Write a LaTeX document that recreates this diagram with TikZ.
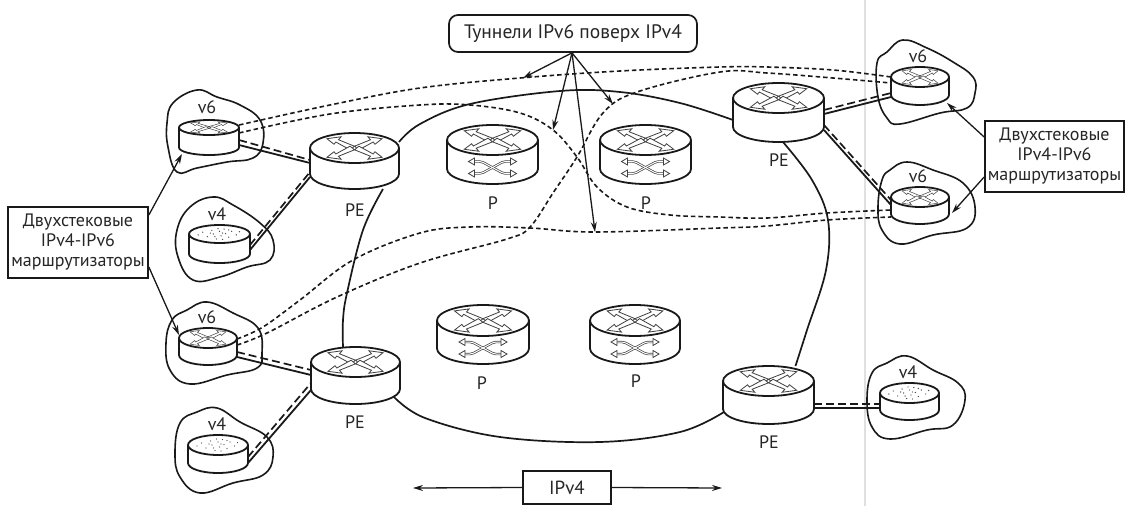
\documentclass[tikz,border=0pt]{standalone}
\usepackage{fontspec}
\setmainfont{PT Sans}
\usetikzlibrary{arrows.meta}
\tikzset{
  solidlink/.style={line width=1.8pt,black!90},
  dashlink/.style={line width=1.7pt,black!90,dash pattern=on 8pt off 4pt},
  tunnel/.style={line width=1.6pt,black!90,dash pattern=on 4.5pt off 3pt},
  cloudline/.style={line width=1.6pt,black!90},
  corelink/.style={line width=1.7pt,black!90},
  pointer/.style={line width=1.3pt,black!90,-{Stealth[length=10pt,width=6pt]}},
  lab/.style={inner sep=0pt,text=black!85,font=\fontsize{18}{20}\selectfont},
  callout/.style={draw,line width=1.7pt,black!90,text=black!85,inner sep=0pt,align=center,font=\fontsize{18}{20}\selectfont},
  routerbox/.style={inner sep=0pt,outer sep=0pt},
  glyph/.style={line width=.8pt,draw=black!75,fill=white},
}
\newcommand{\topglyph}[1]{%
  \foreach \sx/\sy in {1/1,-1/1,1/-1,-1/-1}{
    \draw[glyph,#1,xscale=\sx,yscale=\sy] (0,.12) -- (.36,.55) -- (.30,.75) -- (.62,.62) -- (.46,.25) -- (.42,.40) -- (.10,-.12) -- cycle;
  }}
\newcommand{\rtr}[7]{% cx, cy, rx, ry, h, kind, unused
  \draw[line width=1.8pt,black!90,fill=white] (#1-#3,#2) -- (#1-#3,#2+#5)
     arc[start angle=180,end angle=360,x radius=#3pt,y radius=#4pt] -- (#1+#3,#2)
     arc[start angle=0,end angle=360,x radius=#3pt,y radius=#4pt];
  \ifnum#6=2
    \begin{scope}[shift={(#1,#2)},x=#3pt,y=#4pt]
      \foreach \dx/\dy in {-.55/.2,-.4/-.3,-.25/.4,-.2/0,-.1/-.55,0/.3,.05/-.2,.15/.55,.2/.05,.3/-.35,.4/.3,.55/-.1,-.7/-.1,.65/.25,-.05/.6,.1/-.6,-.3/.1,.1/.1,.3/.45,-.15/-.3}
        \fill[black!70] (\dx,\dy) circle[radius=.7pt];
    \end{scope}
  \else
    \begin{scope}[shift={(#1,#2)},x=#3pt,y=#4pt]
      \topglyph{#7}
    \end{scope}
  \fi
  \ifnum#6=1
    \begin{scope}[shift={(#1,#2+27.5)}]
      \draw[line width=2.4pt,black!75,rounded corners=2pt] (-20,-6) -- (-11,-6) -- (11,6) -- (20,6);
      \draw[line width=2.4pt,black!75,rounded corners=2pt] (-20,6) -- (-11,6) -- (11,-6) -- (20,-6);
      \draw[line width=1pt,white,rounded corners=2pt] (-20,-6) -- (-11,-6) -- (11,6) -- (20,6);
      \draw[line width=1pt,white,rounded corners=2pt] (-20,6) -- (-11,6) -- (11,-6) -- (20,-6);
      \foreach \sx/\sy in {1/1,-1/1,1/-1,-1/-1}{
        \draw[glyph,xscale=\sx,yscale=\sy] (18,2.5) -- (24,6) -- (18,9.5) -- cycle;
      }
    \end{scope}
  \fi
}
\begin{document}
\begin{tikzpicture}[x=1pt,y=-1pt]
\useasboundingbox (0,0) rectangle (1130,506);
\fill[white] (0,0) rectangle (1130,506);
\draw[black!12,line width=1.6pt] (865,0) -- (865,506);

% named router footprints
\foreach \n/\cx/\cy/\rx/\ry/\h in {vTL/209/127.5/30/7.5/20,vLT/219.5/234/30.5/9/20,vBL/208/338/29/10/17,vLB/218/445/30/10/18,PEa/354.5/148/44.5/15/26,PEb/355.5/362/44.5/15/27,PEc/778.5/98/45.5/15/29,PEd/768.5/381/45.5/15/28,vTR/920/77/29/10/18,vBR/920/197/29/10/17,vRF/909.5/393/29.5/10/17,Pa/492.5/140/45.5/15/29,Pb/645.5/140/45.5/15/29,Pc/483/320.5/46/15.5/28,Pd/635/320.5/45/15.5/28}
  \node[routerbox,minimum width={2*\rx*1pt},minimum height={(\h+2*\ry)*1pt}] (\n) at (\cx,{\cy+\h/2}) {};

% clouds
\draw[cloudline] plot[smooth cycle,tension=.7] coordinates {(197,90)(217,97)(240,105)(260,120)(263,143)(253,158)(227,162)(197,168)(177,172)(168,147)(167,123)(173,103)};
\draw[cloudline] plot[smooth cycle,tension=.7] coordinates {(213,197)(233,205)(260,223)(273,240)(270,260)(247,267)(220,277)(193,280)(178,257)(177,230)(190,207)};
\draw[cloudline] plot[smooth cycle,tension=.7] coordinates {(207,302)(233,313)(258,328)(262,353)(257,368)(227,375)(190,384)(170,370)(166,343)(172,320)(187,310)};
\draw[cloudline] plot[smooth cycle,tension=.7] coordinates {(217,408)(240,422)(267,437)(273,457)(263,475)(233,483)(200,493)(180,477)(175,453)(180,423)(197,412)};
\draw[cloudline] plot[smooth cycle,tension=.7] coordinates {(903,40)(927,48)(953,62)(973,77)(975,93)(967,108)(940,113)(900,124)(887,118)(878,97)(877,63)(887,52)};
\draw[cloudline] plot[smooth cycle,tension=.7] coordinates {(907,162)(933,170)(963,183)(975,207)(967,228)(933,235)(900,244)(882,230)(878,207)(882,180)(890,170)};
\draw[cloudline] plot[smooth cycle,tension=.7] coordinates {(907,356)(933,370)(958,383)(965,400)(953,425)(927,430)(890,439)(872,427)(867,400)(872,373)(887,363)};

% core ring
\coordinate (c1) at ([yshift=19pt]PEa.east);
\coordinate (c2) at ([yshift=-7.5pt]PEc.west);
\draw[corelink] plot[smooth,tension=.6] coordinates {(c1)(420,124)(470,104)(560,91)(620,92)(680,103)(c2)};
\coordinate (c3) at ([xshift=28.5pt]PEa.south);
\coordinate (c4) at ([xshift=-12.5pt]PEb.north);
\draw[corelink] plot[smooth,tension=.6] coordinates {(c3)(363,230)(347,293)(343,320)(c4)};
\coordinate (c5) at ([xshift=-6pt,yshift=-21.5pt]PEb.east);
\coordinate (c6) at ([xshift=1pt,yshift=-17pt]PEd.west);
\draw[corelink] plot[smooth,tension=.6] coordinates {(c5)(425,418)(500,437)(600,442)(680,432)(c6)};
\coordinate (c7) at ([xshift=4.5pt]PEc.south);
\coordinate (c8) at ([xshift=27pt]PEd.north);
\draw[corelink] plot[smooth,tension=.6] coordinates {(c7)(812,180)(828,220)(826,270)(807,330)(c8)};

% tunnels
\coordinate (t1a) at ([yshift=12.5pt]vTL.east);
\coordinate (t1b) at ([yshift=9pt]vTR.west);
\draw[tunnel] plot[smooth,tension=.6] coordinates {(t1a)(330,105)(420,88)(520,78)(620,71)(720,67)(767,67)(833,70)(t1b)};
\coordinate (t2a) at ([yshift=4.5pt]vTL.east);
\coordinate (t2b) at ([yshift=-4.5pt]vBR.west);
\draw[tunnel] plot[smooth,tension=.6] coordinates {(t2a)(330,114)(420,105)(470,105)(520,113)(553,130)(577,157)(597,187)(627,207)(670,215)(720,217)(767,218)(827,213)(t2b)};
\coordinate (t3a) at ([yshift=1.5pt]vBL.east);
\coordinate (t3b) at ([yshift=3pt]vTR.west);
\draw[tunnel] plot[smooth,tension=.6] coordinates {(t3a)(267,333)(337,297)(420,263)(507,239)(530,227)(553,193)(577,157)(603,113)(637,92)(720,72)(767,73)(833,78)(t3b)};
\coordinate (t4a) at ([yshift=7.5pt]vBL.east);
\coordinate (t4b) at ([yshift=-11.5pt]vBR.west);
\draw[tunnel] plot[smooth,tension=.6] coordinates {(t4a)(263,327)(300,300)(353,260)(420,233)(470,227)(530,228)(595,232)(720,228)(767,226)(827,220)(t4b)};

% access links
\draw[solidlink] ([yshift=-7.5pt]vTL.east) -- ([yshift=-2pt]PEa.west);
\draw[dashlink] ([yshift=-2.5pt]vTL.east) -- ([yshift=1pt]PEa.west);
\draw[solidlink] ([yshift=-6pt]vLT.east) -- ([yshift=-16pt]PEa.west);
\draw[dashlink] ([yshift=-1pt]vLT.east) -- ([yshift=-11pt]PEa.west);
\draw[solidlink] ([yshift=-10.5pt]vBL.east) -- ([yshift=.5pt]PEb.west);
\draw[dashlink] ([yshift=-5.5pt]vBL.east) -- ([yshift=5.5pt]PEb.west);
\draw[solidlink] ([yshift=-9pt]vLB.east) -- ([yshift=-14.5pt]PEb.west);
\draw[dashlink] ([yshift=-3pt]vLB.east) -- ([yshift=-7.5pt]PEb.west);
\draw[solidlink] ([yshift=-1.5pt]PEc.east) -- ([yshift=-11pt]vTR.west);
\draw[dashlink] ([yshift=2.5pt]PEc.east) -- ([yshift=-7pt]vTR.west);
\draw[solidlink] ([yshift=-17.5pt]PEc.east) -- ([yshift=.5pt]vBR.west);
\draw[dashlink] ([yshift=-12.5pt]PEc.east) -- ([yshift=5.5pt]vBR.west);
\draw[solidlink] ([yshift=-13pt]PEd.east) -- ([yshift=-6.5pt]vRF.west);
\draw[dashlink] ([yshift=-9pt]PEd.east) -- ([yshift=-2.5pt]vRF.west);

% routers
\rtr{209}{127.5}{30}{7.5}{20}{0}{line width=.5pt}
\rtr{219.5}{234}{30.5}{9}{20}{2}{}
\rtr{208}{338}{29}{10}{17}{0}{line width=.5pt}
\rtr{218}{445}{30}{10}{18}{2}{}
\rtr{354.5}{148}{44.5}{15}{26}{0}{}
\rtr{355.5}{362}{44.5}{15}{27}{0}{}
\rtr{778.5}{98}{45.5}{15}{29}{0}{}
\rtr{768.5}{381}{45.5}{15}{28}{0}{}
\rtr{920}{77}{29}{10}{18}{0}{line width=.5pt}
\rtr{920}{197}{29}{10}{17}{0}{line width=.5pt}
\rtr{909.5}{393}{29.5}{10}{17}{2}{}
\rtr{492.5}{140}{45.5}{15}{29}{1}{}
\rtr{645.5}{140}{45.5}{15}{29}{1}{}
\rtr{483}{320.5}{46}{15.5}{28}{1}{}
\rtr{635}{320.5}{45}{15.5}{28}{1}{}

% text labels
\node[lab] (l1) at (207,107) {v6};
\node[lab] (l2) at (217,214) {v4};
\node[lab] (l3) at (207,317) {v6};
\node[lab] (l4) at (217,424) {v4};
\node[lab] (l5) at (918,56) {v6};
\node[lab] (l6) at (918,176) {v6};
\node[lab] (l7) at (908,372) {v4};
\node[lab] (l8) at (355,210) {PE};
\node[lab] (l9) at (355,422) {PE};
\node[lab] (l10) at (779,160) {PE};
\node[lab] (l11) at (769,442) {PE};
\node[lab] (l12) at (493,203) {P};
\node[lab] (l13) at (646,203) {P};
\node[lab] (l14) at (482,383) {P};
\node[lab] (l15) at (636,381) {P};

% callouts
\node[callout,minimum width=140pt,minimum height=71pt] (L) at (78,242.5) {Двухстековые\\IPv4-IPv6\\маршрутизаторы};
\node[callout,minimum width=139pt,minimum height=71pt] (R) at (1054.5,156.5) {Двухстековые\\IPv4-IPv6\\маршрутизаторы};
\node[callout,rounded corners=9pt,minimum width=248pt,minimum height=37pt,font=\fontsize{19.5}{22}\selectfont] (T) at (573,33.5) {Туннели IPv6 поверх IPv4};
\node[callout,minimum width=88pt,minimum height=33pt,font=\fontsize{19}{21}\selectfont] (B) at (567,487.5) {IPv4};

% pointers
\coordinate (e1) at (413,488);
\coordinate (e2) at (722,488);
\draw[pointer] (B.west) -- (e1);
\draw[pointer] (B.east) -- (e2);
\draw[pointer] ([yshift=27.5pt]L.east) -- ([xshift=3pt,yshift=1pt]vTL.south west);
\draw[pointer] ([yshift=-24.5pt]L.east) -- ([yshift=11.5pt]vBL.west);
\draw[pointer] ([yshift=19.5pt]R.west) -- ([xshift=-2pt,yshift=2pt]vTR.south east);
\draw[pointer] ([yshift=-20.5pt]R.west) -- ([xshift=3pt,yshift=-7.5pt]vBR.east);
\coordinate (a1) at (523,78);
\coordinate (a2) at (553,130);
\coordinate (a3) at (595,232);
\coordinate (a4) at (613,104);
\draw[pointer] ([xshift=-1pt]T.south) -- (a1);
\draw[pointer] ([xshift=-1pt]T.south) -- (a2);
\draw[pointer] ([xshift=-1pt]T.south) -- (a3);
\draw[pointer] ([xshift=-1pt]T.south) -- (a4);
\end{tikzpicture}
\end{document}
